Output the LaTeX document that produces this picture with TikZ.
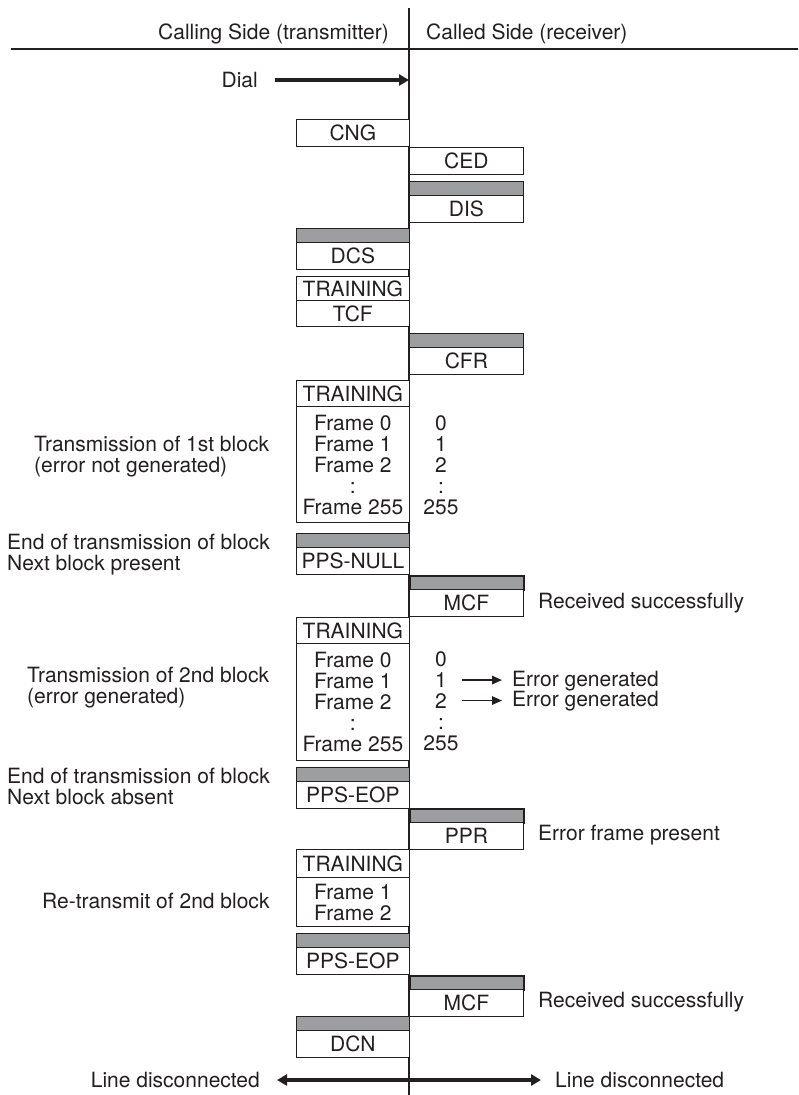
\documentclass[tikz,border=0pt]{standalone}
\usepackage{fontspec}
\setmainfont{TeX Gyre Heros}
\usetikzlibrary{arrows.meta}
\definecolor{ink}{HTML}{231F20}
\definecolor{barfill}{HTML}{9D9EA0}
\newcommand{\lblfont}{\fontsize{21}{21}\selectfont}

\begin{document}
\begin{tikzpicture}[x=1pt,y=-1pt,
  every node/.style={text=ink, font=\lblfont},
  msg/.style={draw=ink, line width=1.2pt, fill=white, minimum width=113.5pt,
              minimum height=27pt, inner sep=0pt, anchor=north west, align=center},
  bar/.style={draw=ink, line width=1.2pt, fill=barfill, minimum width=113.5pt,
              minimum height=13.5pt, inner sep=0pt, anchor=north west},
  boldbar/.style={bar, line width=2pt},
  lbl/.style={inner sep=0pt, align=left, anchor=west},
  num/.style={inner sep=0pt, anchor=base},
  heavy/.style={draw=ink, line width=4pt},
  thinarrow/.style={draw=ink, line width=1.5pt, -{Triangle[length=10pt,width=8.5pt]}},
]
\useasboundingbox (0,0) rectangle (798,1095);

% time axis and header rule
\coordinate (lineTop) at (409,8);
\coordinate (lineBot) at (409,1095);
\coordinate (ruleL) at (11,49);
\coordinate (ruleR) at (798,49);
\draw[ink, line width=1.5pt] (lineTop) -- (lineBot);
\draw[ink, line width=2pt] (ruleL) -- (ruleR);

\node[inner sep=0pt, anchor=base east] (hdrL) at (389,39.5) {Calling Side (transmitter)};
\node[inner sep=0pt, anchor=base west] (hdrR) at (426,39.5) {Called Side (receiver)};

% dialling
\node[inner sep=0pt, anchor=east] (dial) at (258,80) {Dial};
\coordinate (dialEnd) at (409,80);
\draw[heavy, -{Triangle[length=10pt,width=11pt]}] ([xshift=17pt]dial.east) -- (dial.east -| dialEnd);

% phase B: negotiation
\node[msg] (cng) at (295.5,119) {CNG};
\node[msg] (ced) at (409,147) {CED};
\node[bar] (disbar) at (409,181) {};
\node[msg] (dis) at (409,194.5) {DIS};
\node[bar] (dcsbar) at (295.5,228) {};
\node[msg] (dcs) at (295.5,241.5) {DCS};
\node[msg, minimum height=24pt] (tr0) at (295.5,276) {TRAINING};
\node[msg, minimum height=26pt] (tcf) at (295.5,300) {TCF};
\node[bar] (cfrbar) at (409,333) {};
\node[msg] (cfr) at (409,346.5) {CFR};

% first block
\node[msg, minimum height=26pt] (tr1) at (295.5,380) {TRAINING};
\node[msg, minimum height=116pt] (fr1) at (295.5,406) {Frame 0\\Frame 1\\Frame 2\\:\\Frame 255};
\node[num] (n10) at (441,430.5) {0};
\node[num] (n11) at (441,451.5) {1};
\node[num] (n12) at (441,472.5) {2};
\node[num] (n13) at (441,493.5) {:};
\node[num] (n14) at (441,514.5) {255};
\node[lbl] (blk1) at (34,456.5) {Transmission of 1st block\\(error not generated)};

\node[bar] (pnbar) at (295.5,533) {};
\node[msg] (ppsnull) at (295.5,546.5) {PPS-NULL};
\node[lbl] (eob1) at (7,555) {End of transmission of block\\Next block present};
\node[boldbar] (mcf1bar) at (409,575) {};
\node[msg] (mcf1) at (409,588.5) {MCF};
\node[lbl] (ok1) at (538,603) {Received successfully};

% second block
\node[msg, minimum height=26pt] (tr2) at (295.5,617) {TRAINING};
\node[msg, minimum height=117pt] (fr2) at (295.5,643) {Frame 0\\Frame 1\\Frame 2\\:\\Frame 255};
\node[num] (n20) at (441,666.5) {0};
\node[num] (n21) at (441,687.5) {1};
\node[num] (n22) at (441,708) {2};
\node[num] (n23) at (441,729) {:};
\node[num] (n24) at (441,750) {255};
\node[lbl] (blk2) at (27,687.5) {Transmission of 2nd block\\(error generated)};
\node[lbl] (err1) at (512,681) {Error generated};
\node[lbl] (err2) at (512,701.5) {Error generated};
\draw[thinarrow] ([xshift=15pt]n21.east) -- ([xshift=-10pt]n21.east -| err1.west);
\draw[thinarrow] ([xshift=15pt]n22.east) -- ([xshift=-10pt]n22.east -| err2.west);

\node[bar] (pe1bar) at (295.5,767) {};
\node[msg] (ppseop1) at (295.5,780.5) {PPS-EOP};
\node[lbl] (eob2) at (7,786) {End of transmission of block\\Next block absent};
\node[boldbar] (pprbar) at (409,808) {};
\node[msg] (ppr) at (409,821.5) {PPR};
\node[lbl] (errf) at (538,835) {Error frame present};

% re-transmission
\node[msg, minimum height=28pt] (tr3) at (295.5,849) {TRAINING};
\node[msg, minimum height=49pt] (fr3) at (295.5,877) {Frame 1\\Frame 2};
\node[lbl] (retx) at (42,901) {Re-transmit of 2nd block};
\node[bar] (pe2bar) at (295.5,933) {};
\node[msg] (ppseop2) at (295.5,946.5) {PPS-EOP};
\node[boldbar] (mcf2bar) at (409,975) {};
\node[msg] (mcf2) at (409,988.5) {MCF};
\node[lbl] (ok2) at (538,1002) {Received successfully};
\node[bar] (dcnbar) at (295.5,1016) {};
\node[msg] (dcn) at (295.5,1029.5) {DCN};

% release
\node[inner sep=0pt, anchor=east] (discL) at (260,1080) {Line disconnected};
\node[lbl] (discR) at (555,1080) {Line disconnected};
\draw[heavy, {Triangle[length=10pt,width=11pt]}-{Triangle[length=10pt,width=11pt]}]
  ([xshift=17pt]discL.east) -- ([xshift=-14pt]discR.west);
\end{tikzpicture}
\end{document}
